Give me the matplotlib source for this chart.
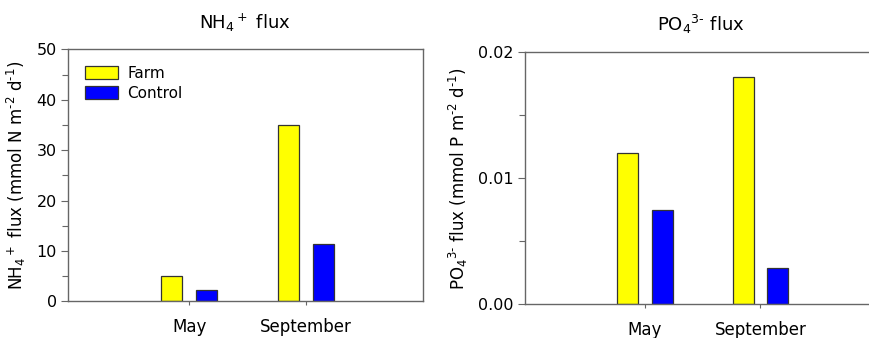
import matplotlib
matplotlib.use("Agg")
import matplotlib.pyplot as plt
import numpy as np
from matplotlib.ticker import MultipleLocator, FormatStrFormatter

months = ["May", "September"]
series = ["Farm", "Control"]
nh4_farm = [5.1, 35.0]
nh4_control = [2.3, 11.5]
po4_farm = [0.012, 0.018]
po4_control = [0.0075, 0.0029]

colors = {"Farm": "#ffff00", "Control": "#0000ff"}
spine_color = "#666666"

plt.rcParams["font.family"] = "DejaVu Sans"
plt.rcParams["mathtext.default"] = "regular"

fig = plt.figure(figsize=(8.7, 3.38), dpi=100)
ax1 = fig.add_axes([0.078, 0.108, 0.408, 0.746])
ax2 = fig.add_axes([0.603, 0.100, 0.404, 0.746])

x = np.arange(1, len(months) + 1)
width = 0.18
offset = 0.30


def draw_panel(ax, farm, control, ymax, major, minor, fmt, title, ylabel):
    ax.bar(x - offset / 2, farm, width, color=colors["Farm"], edgecolor="#333333",
           linewidth=0.9, label="Farm", zorder=2)
    ax.bar(x + offset / 2, control, width, color=colors["Control"], edgecolor="#333333",
           linewidth=0.9, label="Control", zorder=2)
    ax.set_xlim(-0.04, 3.0)
    ax.set_ylim(0, ymax)
    ax.set_xticks(x)
    ax.set_xticklabels(months, fontsize=12)
    ax.yaxis.set_major_locator(MultipleLocator(major))
    ax.yaxis.set_minor_locator(MultipleLocator(minor))
    ax.yaxis.set_major_formatter(FormatStrFormatter(fmt))
    ax.tick_params(axis="y", which="major", direction="out", length=5, width=0.8,
                   color=spine_color, labelsize=11.5, pad=3)
    ax.tick_params(axis="y", which="minor", direction="out", length=4, width=0.8,
                   color=spine_color)
    ax.tick_params(axis="x", direction="out", length=3, width=0.8,
                   color=spine_color, pad=9)
    for s in ax.spines.values():
        s.set_color(spine_color)
        s.set_linewidth(1.0)
    ax.set_title(title, fontsize=13, pad=15)
    ax.set_ylabel(ylabel, fontsize=12, labelpad=6)


draw_panel(ax1, nh4_farm, nh4_control, 50, 10, 5, "%d",
           r"NH$_4$$^+$ flux",
           r"NH$_4$$^+$ flux (mmol N m$^{\text{-}2}$ d$^{\text{-}1}$)")
draw_panel(ax2, po4_farm, po4_control, 0.02, 0.01, 0.005, "%.2f",
           r"PO$_4$$^{3\text{-}}$ flux",
           r"PO$_4$$^{3\text{-}}$ flux (mmol P m$^{\text{-}2}$ d$^{\text{-}1}$)")

ax1.legend(loc="upper left", frameon=False, fontsize=11, handlelength=2.2,
           handleheight=0.9, handletextpad=0.6, borderaxespad=0.0,
           labelspacing=0.35, bbox_to_anchor=(0.03, 0.96))

fig.savefig("out.png", dpi=100)
